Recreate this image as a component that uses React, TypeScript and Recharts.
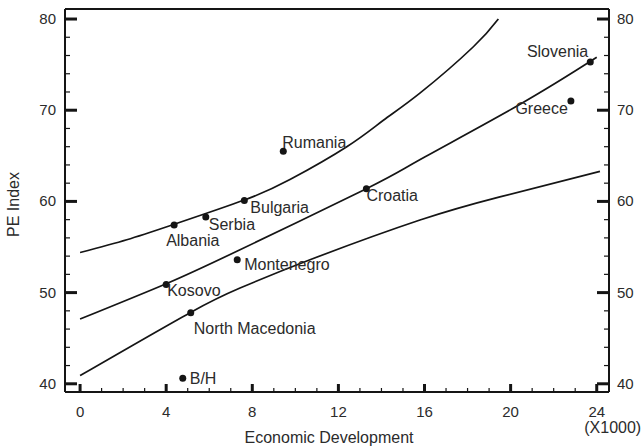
import { ComposedChart, Line, Scatter, XAxis, YAxis } from 'recharts';

const FONT = '"Liberation Sans", Arial, sans-serif';
const INK = '#151515';
const TEXT = '#2b2b2b';

// countries and their values (economic development in thousands, PE index)
const countries = ['Slovenia', 'Greece', 'Croatia', 'Rumania', 'Bulgaria', 'Serbia', 'Albania', 'Montenegro', 'Kosovo', 'North Macedonia', 'B/H'];
const econDev = [23.7, 22.8, 13.3, 9.44, 7.63, 5.84, 4.37, 7.3, 4.0, 5.14, 4.77];
const peIndex = [75.3, 71.0, 61.4, 65.5, 60.1, 58.3, 57.4, 53.6, 50.9, 47.8, 40.6];

// fitted line and the two confidence curves
const fitX = [0, 4.03, 7.43, 13.3, 15.8, 20.4, 24.0];
const fitY = [47.1, 51.0, 54.7, 61.4, 64.6, 70.6, 75.8];
const upperX = [0, 2.17, 4.38, 7.63, 9.75, 12.39, 14.09, 15.8, 18.27, 19.43];
const upperY = [54.4, 55.8, 57.5, 60.15, 62.4, 66.0, 68.9, 71.9, 76.96, 80.0];
const lowerX = [0, 5.11, 7.43, 10.68, 15.79, 19.5, 24.15];
const lowerY = [40.9, 47.8, 50.5, 53.6, 57.96, 60.5, 63.3];

const xTicks = [0, 1, 2, 3, 4, 5, 6, 7, 8, 9, 10, 11, 12, 13, 14, 15, 16, 17, 18, 19, 20, 21, 22, 23, 24];
const yTicks = [40, 42, 44, 46, 48, 50, 52, 54, 56, 58, 60, 62, 64, 66, 68, 70, 72, 74, 76, 78, 80];

// label placement relative to each dot: [dx, dy, anchor]
const labelPos: Record<string, [number, number, 'start' | 'end']> = {
  Slovenia: [-2, -5, 'end'],
  Greece: [-3, 13, 'end'],
  Croatia: [0, 12, 'start'],
  Rumania: [-1, -3, 'start'],
  Bulgaria: [6, 12, 'start'],
  Serbia: [3, 13, 'start'],
  Albania: [-8, 21, 'start'],
  Montenegro: [7, 10, 'start'],
  Kosovo: [1, 12, 'start'],
  'North Macedonia': [3, 21, 'start'],
  'B/H': [7, 6, 'start'],
};

const points = countries.map((name, i) => ({ name, x: econDev[i], y: peIndex[i] }));
const fitLine = fitX.map((x, i) => ({ x, y: fitY[i] }));
const upperLine = upperX.map((x, i) => ({ x, y: upperY[i] }));
const lowerLine = lowerX.map((x, i) => ({ x, y: lowerY[i] }));

const textStyle = { fontFamily: FONT, fontSize: 16, fill: TEXT };
const tickStyle = { fontFamily: FONT, fontSize: 15, fill: TEXT };

function makeTick(side: 'bottom' | 'top' | 'left' | 'right') {
  return (props: any) => {
    const { x, y, payload } = props;
    const v = payload.value;
    const major = side === 'bottom' || side === 'top' ? v % 4 === 0 : v % 10 === 0;
    const w = major ? 3 : 1.2;
    if (side === 'bottom' || side === 'top') {
      const len = major ? 8 : (side === 'top' ? 5 : 4);
      const dir = side === 'bottom' ? -1 : 1;
      return (
        <g>
          <line x1={x} y1={y} x2={x} y2={y + dir * len} stroke={INK} strokeWidth={w} />
          {side === 'bottom' && major && (
            <text x={x} y={y + 25} textAnchor="middle" style={tickStyle}>{v}</text>
          )}
          {side === 'bottom' && v === 24 && (
            <text x={x + 16} y={y + 41} textAnchor="middle" style={textStyle}>(X1000)</text>
          )}
        </g>
      );
    }
    const len = major ? 12 : 5;
    const dir = side === 'left' ? 1 : -1;
    return (
      <g>
        <line x1={x} y1={y} x2={x + dir * len} y2={y} stroke={INK} strokeWidth={w} />
        {major && (
          <text
            x={side === 'left' ? x - 9 : x + 8}
            y={y + 5}
            textAnchor={side === 'left' ? 'end' : 'start'}
            style={tickStyle}
          >
            {v}
          </text>
        )}
      </g>
    );
  };
}

const CountryDot = (props: any) => {
  const { cx, cy, payload } = props;
  const [dx, dy, anchor] = labelPos[payload.name] ?? [5, 5, 'start'];
  return (
    <g>
      <circle cx={cx} cy={cy} r={3.5} fill={INK} />
      <text x={cx + dx} y={cy + dy} textAnchor={anchor} style={textStyle}>{payload.name}</text>
    </g>
  );
};

export default function App() {
  const xDomain: [number, number] = [-0.7, 24.57];
  const yDomain: [number, number] = [39.1, 81.1];
  const axisLine = { stroke: INK, strokeWidth: 2 };

  return (
    <div style={{ position: 'absolute', left: 0, top: 0, width: 643, height: 448, background: '#fff' }}>
      <ComposedChart width={643} height={448} margin={{ top: 0, right: 0, bottom: 0, left: 0 }}>
        <XAxis
          xAxisId="b"
          dataKey="x"
          type="number"
          domain={xDomain}
          allowDataOverflow
          ticks={xTicks}
          interval={0}
          height={56}
          tickSize={0}
          tickMargin={0}
          tickLine={false}
          axisLine={axisLine}
          tick={makeTick('bottom')}
          label={{ value: 'Economic Development', position: 'insideBottom', offset: 5, dx: -8, style: textStyle }}
        />
        <XAxis
          xAxisId="t"
          orientation="top"
          type="number"
          domain={xDomain}
          allowDataOverflow
          ticks={xTicks}
          interval={0}
          height={9}
          tickSize={0}
          tickMargin={0}
          tickLine={false}
          axisLine={axisLine}
          tick={makeTick('top')}
        />
        <YAxis
          yAxisId="l"
          dataKey="y"
          type="number"
          domain={yDomain}
          allowDataOverflow
          ticks={yTicks}
          interval={0}
          width={65}
          tickSize={0}
          tickMargin={0}
          tickLine={false}
          axisLine={axisLine}
          tick={makeTick('left')}
          label={{ value: 'PE Index', angle: -90, position: 'insideLeft', offset: 13, dy: 4, style: { ...textStyle, textAnchor: 'middle' } }}
        />
        <YAxis
          yAxisId="r"
          orientation="right"
          type="number"
          domain={yDomain}
          allowDataOverflow
          ticks={yTicks}
          interval={0}
          width={34}
          tickSize={0}
          tickMargin={0}
          tickLine={false}
          axisLine={axisLine}
          tick={makeTick('right')}
        />
        <Line xAxisId="b" yAxisId="l" data={upperLine} dataKey="y" type="natural" stroke={INK} strokeWidth={1.7} dot={false} isAnimationActive={false} />
        <Line xAxisId="b" yAxisId="l" data={fitLine} dataKey="y" type="natural" stroke={INK} strokeWidth={1.7} dot={false} isAnimationActive={false} />
        <Line xAxisId="b" yAxisId="l" data={lowerLine} dataKey="y" type="natural" stroke={INK} strokeWidth={1.7} dot={false} isAnimationActive={false} />
        <Scatter xAxisId="b" yAxisId="l" data={points} dataKey="y" shape={CountryDot} isAnimationActive={false} />
      </ComposedChart>
    </div>
  );
}
